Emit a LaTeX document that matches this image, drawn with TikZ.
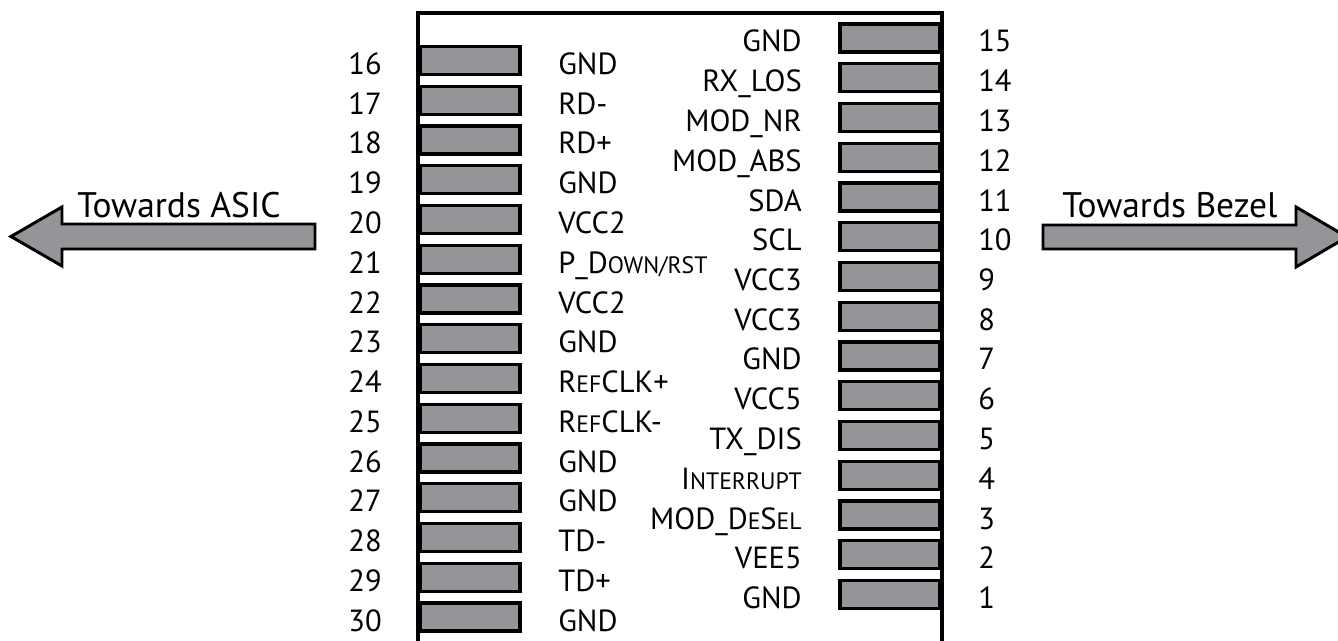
\documentclass[tikz,border=0pt]{standalone}
\usepackage{fontspec}
\setmainfont{PT Sans}
\usetikzlibrary{positioning}
\definecolor{padgray}{HTML}{939598}
\newcommand\smcap[1]{{\fontsize{6.75pt}{7.5pt}\selectfont\uppercase{#1}}}
\tikzset{
  pad/.style={draw=black, line width=0.9pt, fill=padgray, minimum width=1cm, minimum height=0.28cm, inner sep=0pt},
  pinname/.style={font=\fontsize{8.7pt}{10pt}\selectfont, inner sep=0pt, text height=0.22cm, text depth=0.02cm, yshift=-0.04cm},
  pinnum/.style={pinname},
  dirlabel/.style={font=\fontsize{10.1pt}{12pt}\selectfont, inner sep=0pt, anchor=base},
  dirarrow/.style={draw=black, line width=0.85pt, fill=padgray, line join=miter},
  body/.style={draw=black, line width=1pt}
}

\begin{document}
\begin{tikzpicture}[node distance=0.36cm]
			%%%%% START %%%%%
			\useasboundingbox (0, 0) rectangle (13.38, 6.40);
			\clip (0, 0) rectangle (13.38, 6.40);
			
			% connector body
			\draw[body] (4.18, -0.2) -- (4.18, 6.27) -- (9.42, 6.27) -- (9.42, -0.2);
			
			% pads 16 - 30
			\node[pad] (p16) at (4.70, 5.795) {};
			\node[pad] (p17) at (4.70, 5.3975) {};
			\node[pad] (p18) at (4.70, 5.000) {};
			\node[pad] (p19) at (4.70, 4.6025) {};
			\node[pad] (p20) at (4.70, 4.205) {};
			\node[pad] (p21) at (4.70, 3.8075) {};
			\node[pad] (p22) at (4.70, 3.410) {};
			\node[pad] (p23) at (4.70, 3.0125) {};
			\node[pad] (p24) at (4.70, 2.615) {};
			\node[pad] (p25) at (4.70, 2.2175) {};
			\node[pad] (p26) at (4.70, 1.820) {};
			\node[pad] (p27) at (4.70, 1.4225) {};
			\node[pad] (p28) at (4.70, 1.025) {};
			\node[pad] (p29) at (4.70, 0.6275) {};
			\node[pad] (p30) at (4.70, 0.230) {};
			
			% pads 15 - 1
			\node[pad] (p15) at (8.90, 6.020) {};
			\node[pad] (p14) at (8.90, 5.6225) {};
			\node[pad] (p13) at (8.90, 5.225) {};
			\node[pad] (p12) at (8.90, 4.8275) {};
			\node[pad] (p11) at (8.90, 4.430) {};
			\node[pad] (p10) at (8.90, 4.0325) {};
			\node[pad] (p9) at (8.90, 3.635) {};
			\node[pad] (p8) at (8.90, 3.2375) {};
			\node[pad] (p7) at (8.90, 2.840) {};
			\node[pad] (p6) at (8.90, 2.4425) {};
			\node[pad] (p5) at (8.90, 2.045) {};
			\node[pad] (p4) at (8.90, 1.6475) {};
			\node[pad] (p3) at (8.90, 1.250) {};
			\node[pad] (p2) at (8.90, 0.8525) {};
			\node[pad] (p1) at (8.90, 0.455) {};
			
			% pin numbers
			\node[pinnum, left=of p16] (n16) {16};
			\node[pinnum, left=of p17] (n17) {17};
			\node[pinnum, left=of p18] (n18) {18};
			\node[pinnum, left=of p19] (n19) {19};
			\node[pinnum, left=of p20] (n20) {20};
			\node[pinnum, left=of p21] (n21) {21};
			\node[pinnum, left=of p22] (n22) {22};
			\node[pinnum, left=of p23] (n23) {23};
			\node[pinnum, left=of p24] (n24) {24};
			\node[pinnum, left=of p25] (n25) {25};
			\node[pinnum, left=of p26] (n26) {26};
			\node[pinnum, left=of p27] (n27) {27};
			\node[pinnum, left=of p28] (n28) {28};
			\node[pinnum, left=of p29] (n29) {29};
			\node[pinnum, left=of p30] (n30) {30};
			
			\node[pinnum, right=of p15] (n15) {15};
			\node[pinnum, right=of p14] (n14) {14};
			\node[pinnum, right=of p13] (n13) {13};
			\node[pinnum, right=of p12] (n12) {12};
			\node[pinnum, right=of p11] (n11) {11};
			\node[pinnum, right=of p10] (n10) {10};
			\node[pinnum, right=of p9] (n9) {9};
			\node[pinnum, right=of p8] (n8) {8};
			\node[pinnum, right=of p7] (n7) {7};
			\node[pinnum, right=of p6] (n6) {6};
			\node[pinnum, right=of p5] (n5) {5};
			\node[pinnum, right=of p4] (n4) {4};
			\node[pinnum, right=of p3] (n3) {3};
			\node[pinnum, right=of p2] (n2) {2};
			\node[pinnum, right=of p1] (n1) {1};
			
			% signal names
			\node[pinname, right=of p16] (l16) {GND};
			\node[pinname, right=of p17] (l17) {RD-};
			\node[pinname, right=of p18] (l18) {RD+};
			\node[pinname, right=of p19] (l19) {GND};
			\node[pinname, right=of p20] (l20) {VCC2};
			\node[pinname, right=of p21] (l21) {P\_D\smcap{own/rst}};
			\node[pinname, right=of p22] (l22) {VCC2};
			\node[pinname, right=of p23] (l23) {GND};
			\node[pinname, right=of p24] (l24) {R\smcap{ef}CLK+};
			\node[pinname, right=of p25] (l25) {R\smcap{ef}CLK-};
			\node[pinname, right=of p26] (l26) {GND};
			\node[pinname, right=of p27] (l27) {GND};
			\node[pinname, right=of p28] (l28) {TD-};
			\node[pinname, right=of p29] (l29) {TD+};
			\node[pinname, right=of p30] (l30) {GND};
			
			\node[pinname, left=of p15] (l15) {GND};
			\node[pinname, left=of p14] (l14) {RX\_LOS};
			\node[pinname, left=of p13] (l13) {MOD\_NR};
			\node[pinname, left=of p12] (l12) {MOD\_ABS};
			\node[pinname, left=of p11] (l11) {SDA};
			\node[pinname, left=of p10] (l10) {SCL};
			\node[pinname, left=of p9] (l9) {VCC3};
			\node[pinname, left=of p8] (l8) {VCC3};
			\node[pinname, left=of p7] (l7) {GND};
			\node[pinname, left=of p6] (l6) {VCC5};
			\node[pinname, left=of p5] (l5) {TX\_DIS};
			\node[pinname, left=of p4] (l4) {I\smcap{nterrupt}};
			\node[pinname, left=of p3] (l3) {MOD\_D\smcap{e}S\smcap{el}};
			\node[pinname, left=of p2] (l2) {VEE5};
			\node[pinname, left=of p1] (l1) {GND};
			
			% direction arrows
			\draw[dirarrow] (0.11, 4.035) -- (0.62, 4.33) -- (0.62, 4.16) -- (3.15, 4.16) -- (3.15, 3.91) -- (0.62, 3.91) -- (0.62, 3.74) -- cycle;
			\node[dirlabel] (asic) at (1.79, 4.23) {Towards ASIC};
			
			\draw[dirarrow] (10.43, 4.15) -- (12.96, 4.15) -- (12.96, 4.33) -- (13.47, 4.03) -- (12.96, 3.73) -- (12.96, 3.91) -- (10.43, 3.91) -- cycle;
			\node[dirlabel] (bezel) at (11.70, 4.23) {Towards Bezel};
			
			%%%%% END %%%%%
\end{tikzpicture}
\end{document}
